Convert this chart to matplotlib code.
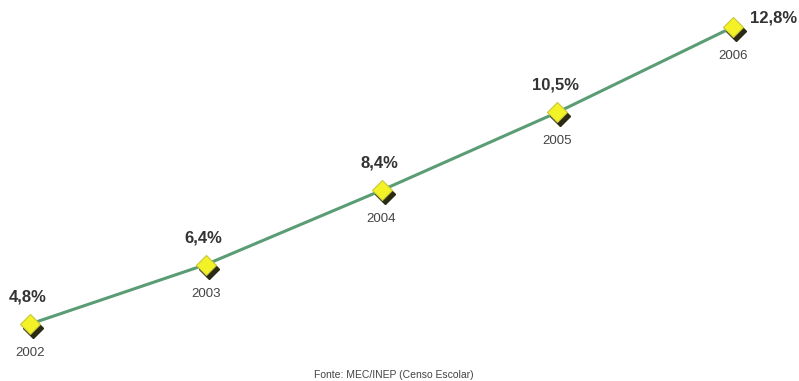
import matplotlib
matplotlib.use("Agg")
import matplotlib.pyplot as plt
import matplotlib.transforms as mtransforms

anos = [2002, 2003, 2004, 2005, 2006]
taxas = [4.8, 6.4, 8.4, 10.5, 12.8]
rotulos = ["4,8%", "6,4%", "8,4%", "10,5%", "12,8%"]

plt.rcParams['font.family'] = ['Liberation Sans', 'DejaVu Sans']

fig = plt.figure(figsize=(7.99, 3.81), dpi=100)
ax = fig.add_axes([0, 0, 1, 1])
ax.set_xlim(2001.829, 2006.3755)
ax.set_ylim(3.265, 13.527)
ax.axis('off')

# linha de evolucao
ax.plot(anos, taxas, color='#5a9c74', lw=2.2, zorder=1)

# sombra dos marcadores
sombra = mtransforms.offset_copy(ax.transData, fig=fig, x=3, y=-4, units='dots')
ax.plot(anos, taxas, 'D', ms=10.5, color='#2b2a12', transform=sombra, zorder=2)
ax.plot(anos, taxas, 'D', ms=10.5, color='#f2f226', mec='#c9c63a', mew=0.8, zorder=3)

for i, (a, t, r) in enumerate(zip(anos, taxas, rotulos)):
    if i < 4:
        ax.annotate(r, (a, t), xytext=(-2, 27), textcoords='offset pixels',
                    ha='center', va='center', fontsize=12, fontweight='bold',
                    color='#333333')
    else:
        ax.annotate(r, (a, t), xytext=(17, 9), textcoords='offset pixels',
                    ha='left', va='center', fontsize=12, fontweight='bold',
                    color='#333333')
    ax.annotate(str(a), (a, t), xytext=(0, -29), textcoords='offset pixels',
                ha='center', va='center', fontsize=9.5, color='#444444')

fig.text(0.4925, 1 - 375 / 381, 'Fonte: MEC/INEP (Censo Escolar)', ha='center',
         va='center', fontsize=7.5, color='#444444')

fig.savefig('out.png', dpi=100)
